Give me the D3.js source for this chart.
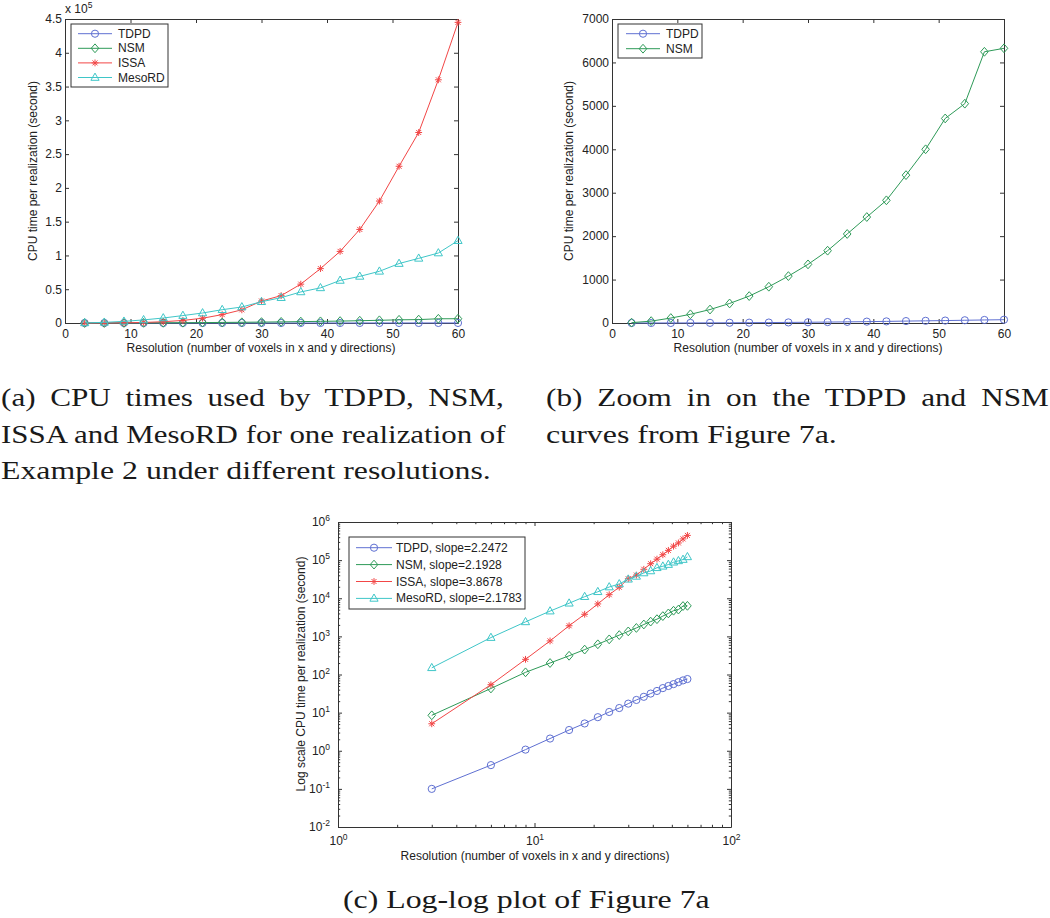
<!DOCTYPE html>
<html><head><meta charset="utf-8">
<script src="https://cdn.jsdelivr.net/npm/d3@7"></script>
<style>body{margin:0;background:#fff}</style>
</head><body>
<svg id="chart" width="1050" height="918"></svg>
<script>
// ---------- DATA ----------
const resolution = [3,6,9,12,15,18,21,24,27,30,33,36,39,42,45,48,51,54,57,60];
const tdpd   = [0.1,0.42,1.07,2.09,3.5,5.2,7.6,10.4,13.2,17.2,21.5,26,31.6,37,44,50,56,63,70,76];
const nsm    = [8.5,43,114,200,310,450,620,835,1080,1350,1665,2050,2440,2825,3405,4000,4710,5050,6245,6325];
const issa   = [5.1,54,250,760,1900,3800,7100,12400,19500,32500,40500,57500,80500,106000,138500,180500,232000,282000,360000,445000];
const mesord = [150,930,2400,4600,7400,11000,14800,19700,23700,31500,37500,46000,52000,63000,69000,76500,88000,95700,103600,121900];
const seriesNames = ["TDPD","NSM","ISSA","MesoRD"];
const slopes = ["2.2472","2.1928","3.8678","2.1783"];
const xTicksLin = [0,10,20,30,40,50,60];
const yTicksA = [0,50000,100000,150000,200000,250000,300000,350000,400000,450000];
const yTicksB = [0,1000,2000,3000,4000,5000,6000,7000];
const xTicksLog = [1,10,100];
const yTicksLog = [1e-2,1e-1,1,10,100,1e3,1e4,1e5,1e6];
const xLabel = "Resolution (number of voxels in x and y directions)";
const yLabelA = "CPU time per realization (second)";
const yLabelC = "Log scale CPU time per realization (second)";
const captionA = ["(a) CPU times used by TDPD, NSM,","ISSA and MesoRD for one realization of","Example 2 under different resolutions."];
const captionB = ["(b) Zoom in on the TDPD and NSM","curves from Figure 7a."];
const captionC = ["(c) Log-log plot of Figure 7a"];

// ---------- STYLE ----------
const colors = {TDPD:"#5f70d2", NSM:"#2e9a58", ISSA:"#f24646", MesoRD:"#3fc6c8"};
const shapes = {TDPD:"circle", NSM:"diamond", ISSA:"star", MesoRD:"triangle"};
const allData = {TDPD:tdpd, NSM:nsm, ISSA:issa, MesoRD:mesord};
const AX = "#333";
const FONT = "'Liberation Sans', Arial, sans-serif";
const SERIF = "'Liberation Serif', 'Times New Roman', serif";

const svg = d3.select("#chart");
svg.append("rect").attr("width",1050).attr("height",918).attr("fill","#fff");

const shapePath = {
  circle: "M3.6,0A3.6,3.6 0 1,1 -3.6,0A3.6,3.6 0 1,1 3.6,0Z",
  diamond: "M0,-4.4L3.8,0L0,4.4L-3.8,0Z",
  star: "M-3.4,0H3.4M0,-3.4V3.4M-2.5,-2.5L2.5,2.5M-2.5,2.5L2.5,-2.5",
  triangle: "M0,-4.4L4.1,2.8L-4.1,2.8Z"
};

function supLabel(sel, base, exp){
  sel.text(null);
  sel.append("tspan").text(base);
  sel.append("tspan").attr("dy","-5").attr("font-size","8.5px").text(exp);
}

function styleAxis(g){
  g.select(".domain").attr("stroke",AX).attr("stroke-width",1);
  g.selectAll(".tick line").attr("stroke",AX).attr("stroke-width",1);
  g.selectAll("text").attr("fill","#222").attr("font-family",FONT).attr("font-size","12px");
  g.attr("font-family",FONT).attr("font-size","12px");
}

function panel(cfg){
  const g = svg.append("g");
  const x = (cfg.log ? d3.scaleLog().domain([1,100]) : d3.scaleLinear().domain([0,60])).range([cfg.x0,cfg.x1]);
  const y = (cfg.log ? d3.scaleLog().domain([1e-2,1e6]) : d3.scaleLinear().domain([0,cfg.ymax])).range([cfg.y1,cfg.y0]);
  const tk = 4;
  const xt = cfg.log ? xTicksLog : xTicksLin;
  const yt = cfg.yt;
  const bottom = g.append("g").attr("transform",`translate(0,${cfg.y1})`)
    .call(d3.axisBottom(x).tickValues(xt).tickSize(-tk).tickSizeOuter(0).tickPadding(cfg.log?9:6)
      .tickFormat(d=>String(d)));
  styleAxis(bottom);
  const top = g.append("g").attr("transform",`translate(0,${cfg.y0})`)
    .call(d3.axisTop(x).tickValues(xt).tickSize(-tk).tickSizeOuter(0).tickFormat(()=>""));
  styleAxis(top);
  const left = g.append("g").attr("transform",`translate(${cfg.x0},0)`)
    .call(d3.axisLeft(y).tickValues(yt).tickSize(-tk).tickSizeOuter(0).tickPadding(cfg.log?8:3)
      .tickFormat(cfg.yfmt));
  styleAxis(left);
  const right = g.append("g").attr("transform",`translate(${cfg.x1},0)`)
    .call(d3.axisRight(y).tickValues(yt).tickSize(-tk).tickSizeOuter(0).tickFormat(()=>""));
  styleAxis(right);
  if(cfg.log){
    bottom.selectAll(".tick text").each(function(d){ supLabel(d3.select(this),"10",String(Math.round(Math.log10(d)))); });
    left.selectAll(".tick text").each(function(d){ supLabel(d3.select(this),"10",String(Math.round(Math.log10(d)))); });
    const xMinor = [];
    for(const dec of [1,10]) for(let m=2;m<=9;m++) xMinor.push(m*dec);
    const yMinor = [];
    for(let e=-2;e<6;e++) for(let m=2;m<=9;m++) yMinor.push(m*Math.pow(10,e));
    const mk = (axisFn, vals, tr) => { const a = g.append("g").attr("transform",tr)
        .call(axisFn.tickValues(vals).tickSize(-2.2).tickSizeOuter(0).tickFormat(()=>""));
      a.select(".domain").remove(); a.selectAll(".tick line").attr("stroke",AX); };
    mk(d3.axisBottom(x), xMinor, `translate(0,${cfg.y1})`);
    mk(d3.axisTop(x), xMinor, `translate(0,${cfg.y0})`);
    mk(d3.axisLeft(y), yMinor, `translate(${cfg.x0},0)`);
    mk(d3.axisRight(y), yMinor, `translate(${cfg.x1},0)`);
  }
  // series
  const line = d3.line().x(d=>x(d[0])).y(d=>y(d[1]));
  cfg.series.forEach(name=>{
    const pts = resolution.map((r,i)=>[r, allData[name][i]]);
    g.append("path").attr("d",line(pts)).attr("fill","none").attr("stroke",colors[name]).attr("stroke-width",1);
    g.selectAll(null).data(pts).enter().append("path")
      .attr("transform",d=>`translate(${x(d[0])},${y(d[1])})`)
      .attr("d",shapePath[shapes[name]]).attr("fill","none")
      .attr("stroke",colors[name]).attr("stroke-width",1);
  });
  // labels
  g.append("text").attr("x",cfg.xlab[0]).attr("y",cfg.xlab[1]).attr("text-anchor","middle")
    .attr("dominant-baseline","central").attr("font-family",FONT).attr("font-size","12px").attr("fill","#222").text(xLabel);
  g.append("text").attr("transform",`translate(${cfg.ylab[0]},${cfg.ylab[1]}) rotate(-90)`).attr("text-anchor","middle")
    .attr("dominant-baseline","central").attr("font-family",FONT).attr("font-size","12px").attr("fill","#222").text(cfg.ylabText);
  // legend
  const L = cfg.legend;
  g.append("rect").attr("x",L.x).attr("y",L.y).attr("width",L.w).attr("height",L.h)
    .attr("fill","#fff").attr("stroke",AX).attr("stroke-width",1);
  cfg.series.forEach((name,i)=>{
    const yy = L.y + L.first + i*L.step;
    g.append("line").attr("x1",L.l1).attr("x2",L.l2).attr("y1",yy).attr("y2",yy).attr("stroke",colors[name]).attr("stroke-width",1);
    g.append("path").attr("transform",`translate(${(L.l1+L.l2)/2},${yy})`).attr("d",shapePath[shapes[name]])
      .attr("fill","none").attr("stroke",colors[name]).attr("stroke-width",1);
    g.append("text").attr("x",L.tx).attr("y",yy).attr("dominant-baseline","central")
      .attr("font-family",FONT).attr("font-size","12px").attr("fill","#222")
      .text(cfg.log ? `${name}, slope=${slopes[seriesNames.indexOf(name)]}` : name);
  });
  return g;
}

// Panel (a)
const ga = panel({x0:65,x1:458,y0:19,y1:323,ymax:450000,yt:yTicksA,yfmt:d=>String(d/1e5),
  series:seriesNames, xlab:[261,348], ylab:[33,171], ylabText:yLabelA,
  legend:{x:71,y:24,w:97,h:63,first:9.7,step:14.6,l1:78,l2:112,tx:118}});
const ex = ga.append("text").attr("x",65).attr("y",12.5).attr("font-family",FONT).attr("font-size","12px").attr("fill","#222");
ex.append("tspan").text("x 10");
ex.append("tspan").attr("dy","-5").attr("font-size","8.5px").text("5");

// Panel (b)
panel({x0:612,x1:1004,y0:19,y1:323,ymax:7000,yt:yTicksB,yfmt:d=>String(d),
  series:["TDPD","NSM"], xlab:[808,348], ylab:[569,171], ylabText:yLabelA,
  legend:{x:618,y:24,w:84,h:34,first:9.7,step:15,l1:626,l2:660,tx:666}});

// Panel (c)
panel({log:true,x0:338,x1:731,y0:522,y1:827,yt:yTicksLog,yfmt:d=>String(d),
  series:seriesNames, xlab:[535,856], ylab:[301,674], ylabText:yLabelC,
  legend:{x:349,y:537,w:176,h:72,first:10.7,step:16.9,l1:356,l2:392,tx:396}});

// Captions: glyphs widened a little (Computer Modern is wider than Times), justified lines get word spacing
function caption(lines, x, y0, widths, justified){
  lines.forEach((t,i)=>{
    const el = svg.append("text").attr("x",0).attr("y",0)
      .style("font-family",SERIF).style("font-size","26px").attr("fill","#1a1a1a").text(t);
    const L = el.node().getComputedTextLength();
    const spaces = (t.match(/ /g)||[]).length;
    let sx = widths[i]/L;
    if(justified[i]) sx = Math.min(sx, 1.2);
    let ws = 0;
    if(justified[i] && spaces>0) ws = (widths[i]/sx - L)/spaces;
    el.style("word-spacing", ws+"px")
      .attr("transform",`translate(${x},${y0+i*36.5}) scale(${sx},1)`);
  });
}
caption(captionA, 1, 406, [503,505,490], [true,true,false]);
caption(captionB, 546, 406, [503,291], [true,false]);
caption(captionC, 343, 908, [367], [false]);
</script>
</body></html>
